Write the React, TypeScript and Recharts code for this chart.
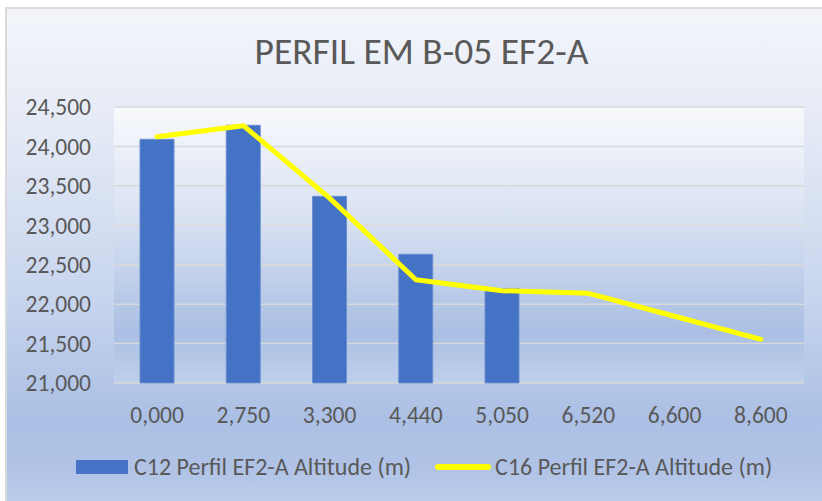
import React from 'react';
import {
    ComposedChart, Bar, Line, XAxis, YAxis, CartesianGrid
} from 'recharts';

const categories = ['0,000', '2,750', '3,300', '4,440', '5,050', '6,520', '6,600', '8,600'];
const c12Altitude = [24090, 24268, 23367, 22632, 22196, null, null, null];
const c16Altitude = [24123, 24263, 23345, 22310, 22171, 22137, 21846, 21554];
const yTicks = [21000, 21500, 22000, 22500, 23000, 23500, 24000, 24500];

const data = categories.map((name, i) => ({
    name,
    c12: c12Altitude[i],
    c16: c16Altitude[i],
}));

const FONT = "Carlito, 'Open Sans', sans-serif";
const TEXT = '#595959';

export default function App() {
    return (
        <div style={{ position: 'absolute', left: 0, top: 0, width: 822, height: 501, background: '#fff', overflow: 'hidden', fontFamily: FONT }}>
            <div
                style={{
                    position: 'absolute', left: 5, top: 7, width: 830, height: 510,
                    borderLeft: '2px solid #d9d9d9', borderTop: '2px solid #d9d9d9',
                    background: 'linear-gradient(to bottom, #f3f5fa 0%, #e3e9f5 25%, #c9d6ee 55%, #abc0e4 80%, #b0c3e6 90%, #c2d1ec 100%)',
                }}
            />
            <div style={{ position: 'absolute', left: 0, top: 28, width: 843, textAlign: 'center', fontSize: 37.5, color: TEXT, whiteSpace: 'nowrap' }}>
                PERFIL EM B-05 EF2-A
            </div>
            <div style={{ position: 'absolute', left: 0, top: 0 }}>
                <ComposedChart width={822} height={501} data={data} margin={{ top: 107, right: 18, bottom: 88, left: 0 }}>
                    <defs>
                        <linearGradient id="plotBg" x1="0" y1="0" x2="0" y2="1">
                            <stop offset="0%" stopColor="#f8f9fc" />
                            <stop offset="40%" stopColor="#d9e2f2" />
                            <stop offset="82%" stopColor="#aabfe3" />
                            <stop offset="100%" stopColor="#bfd0eb" />
                        </linearGradient>
                    </defs>
                    <CartesianGrid vertical={false} stroke="#d9d9d9" strokeWidth={1.5} fill="url(#plotBg)" />
                    <XAxis
                        dataKey="name"
                        height={30}
                        axisLine={false}
                        tickLine={false}
                        tickSize={0}
                        tickMargin={23}
                        interval={0}
                        tick={{ fontSize: 23.5, fill: TEXT, fontFamily: FONT }}
                    />
                    <YAxis
                        width={114}
                        domain={[21000, 24500]}
                        ticks={yTicks}
                        axisLine={false}
                        tickLine={false}
                        tickSize={0}
                        tickMargin={23}
                        tickFormatter={(v: number) => v.toLocaleString('en-US')}
                        tick={{ fontSize: 23.5, fill: TEXT, fontFamily: FONT }}
                    />
                    <Bar dataKey="c12" barSize={34} fill="#4472c4" stroke="#6b8fd2" strokeWidth={1} isAnimationActive={false} />
                    <Line
                        dataKey="c16"
                        type="linear"
                        stroke="#ffff00"
                        strokeWidth={5}
                        strokeLinejoin="round"
                        strokeLinecap="round"
                        dot={false}
                        activeDot={false}
                        isAnimationActive={false}
                    />
                </ComposedChart>
            </div>
            <div style={{ position: 'absolute', left: 76, top: 452, display: 'flex', alignItems: 'center', fontSize: 24, color: TEXT, whiteSpace: 'nowrap' }}>
                <span style={{ display: 'inline-block', width: 52, height: 14, background: '#4472c4', marginRight: 6 }} />
                <span>C12 Perfil EF2-A Altitude (m)</span>
                <span style={{ display: 'inline-block', width: 56, height: 6, borderRadius: 3, background: '#ffff00', marginLeft: 24, marginRight: 4 }} />
                <span>C16 Perfil EF2-A Altitude (m)</span>
            </div>
        </div>
    );
}
